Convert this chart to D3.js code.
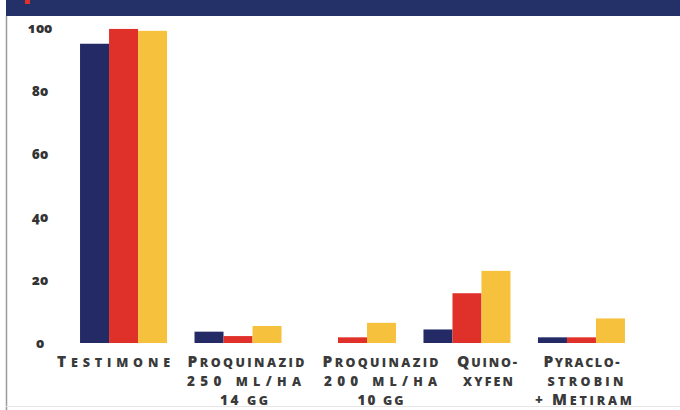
<!DOCTYPE html>
<html><head><meta charset="utf-8">
<script src="https://cdn.jsdelivr.net/npm/d3@7"></script>
<style>
html,body{margin:0;padding:0;background:#fff;}
svg{display:block;}
</style></head>
<body>
<script>
const categories = [
  ["Testimone"],
  ["Proquinazid", "250 ml/ha", "14 gg"],
  ["Proquinazid", "200 ml/ha", "10 gg"],
  ["Quino-", "xyfen"],
  ["Pyraclo-", "strobin", "+ Metiram"]
];
const seriesNames = ["s1", "s2", "s3"];
const seriesA = [95, 3.6, 0, 4.3, 1.8];
const seriesB = [99.7, 2.2, 1.8, 15.8, 1.8];
const seriesC = [99.1, 5.4, 6.4, 22.9, 7.8];
const yTicks = [0, 20, 40, 60, 80, 100];

// layout: label line offsets from group centre and target widths (px)
const labelLayout = [
  [[-10, 113]],
  [[8, 117], [6, 114], [6, 48]],
  [[28, 116], [28, 113], [28, 46]],
  [[20, 60], [21, 50]],
  [[0, 76], [4, 76], [2, 97]]
];

const colors = ["#232a66", "#e0302a", "#f6c23e"];
const W = 680, H = 410;
const svg = d3.select("body").append("svg").attr("width", W).attr("height", H);

// header band
svg.append("rect").attr("x", 6).attr("y", 0).attr("width", W - 6).attr("height", 16).attr("fill", "#243068");
svg.append("rect").attr("x", 25).attr("y", 0).attr("width", 5).attr("height", 4).attr("fill", "#e0302a");
// borders
svg.append("line").attr("x1", 6.5).attr("x2", 6.5).attr("y1", 16).attr("y2", H).attr("stroke", "#9a9a9a").attr("stroke-width", 1.5);
svg.append("line").attr("x1", 6).attr("x2", W).attr("y1", 406.5).attr("y2", 406.5).attr("stroke", "#e6e6e6").attr("stroke-width", 1);

const keys = categories.map((c, i) => i);
const x = d3.scaleBand().domain(keys).range([66.3, 638.7]).paddingInner(0.24).paddingOuter(0.12);
const xs = d3.scaleBand().domain(seriesNames).range([0, x.bandwidth()]);
const y = d3.scaleLinear().domain([0, 100]).range([343, 28]);

const data = [seriesA, seriesB, seriesC];
const g = svg.append("g");
keys.forEach(i => {
  seriesNames.forEach((s, j) => {
    const v = data[j][i];
    g.append("rect")
      .attr("x", x(i) + xs(s))
      .attr("y", y(v))
      .attr("width", xs.bandwidth())
      .attr("height", y(0) - y(v))
      .attr("fill", colors[j]);
  });
});

// y axis labels
const yAxis = d3.axisLeft(y).tickValues(yTicks).tickSize(0).tickPadding(0);
const ya = svg.append("g").attr("transform", "translate(40,0)").call(yAxis);
ya.select(".domain").remove();
ya.selectAll("text")
  .attr("text-anchor", "middle")
  .attr("x", 0)
  .attr("fill", "#333")
  .style("font-family", "'Open Sans', sans-serif")
  .style("font-weight", "800")
  .style("font-size", "13.5px")
  .style("font-variant-numeric", "oldstyle-nums");

// x axis labels (manual small caps)
const xAxis = d3.axisBottom(x).tickSize(0).tickFormat(() => "");
const xa = svg.append("g").attr("transform", "translate(0,343)").call(xAxis);
xa.select(".domain").remove();
xa.selectAll(".tick").each(function(i) {
  const tick = d3.select(this);
  categories[i].forEach((line, k) => {
    const [dx, target] = labelLayout[i][k];
    const t = tick.append("text")
      .attr("text-anchor", "start")
      .attr("y", 23.5 + k * 19)
      .attr("fill", "#3a3a3a")
      .style("font-family", "'Open Sans', sans-serif")
      .style("font-weight", "800");
    const runs = [];
    for (const ch of line) {
      let size;
      if (/[A-Z]/.test(ch)) size = 15.5;
      else if (/[a-z]/.test(ch)) size = 12.5;
      else size = 13.5;
      const last = runs[runs.length - 1];
      if (last && last.size === size) last.text += ch;
      else runs.push({size, text: ch});
    }
    runs.forEach(r => {
      t.append("tspan").style("font-size", r.size + "px").text(r.text.toUpperCase());
    });
    const w = t.node().getComputedTextLength();
    const n = line.length;
    const sp = Math.max(0, (target - w) / (n - 1));
    t.style("letter-spacing", sp + "px");
    t.attr("x", dx - target / 2);
  });
});
</script>
</body></html>
